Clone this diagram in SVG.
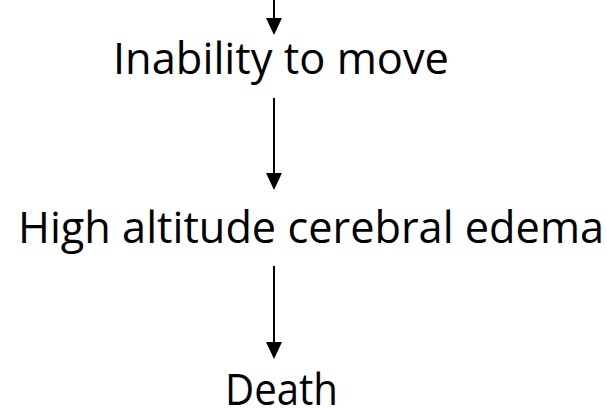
<svg xmlns="http://www.w3.org/2000/svg" width="607" height="409" viewBox="0 0 607 409">
<style>
.lbl{font-family:"Open Sans","Liberation Sans",sans-serif;font-size:44px;fill:#000}
.conn{stroke:#000;stroke-width:2;fill:none}
</style>
<defs>
<marker id="ah" markerUnits="userSpaceOnUse" markerWidth="17" markerHeight="16" viewBox="0 -8 17 16" refX="0" refY="0" orient="auto">
<path d="M0,-8 L17,0 L0,8 z" fill="#000"/>
</marker>
</defs>
<rect width="607" height="409" fill="#fff"/>
<g id="connectors">
<line class="conn" x1="274" y1="0" x2="274" y2="18" marker-end="url(#ah)"/>
<line class="conn" x1="274" y1="98" x2="274" y2="173" marker-end="url(#ah)"/>
<line class="conn" x1="274" y1="266" x2="274" y2="342" marker-end="url(#ah)"/>
</g>
<g id="node-inability">
<text class="lbl" x="113" y="74" textLength="336" lengthAdjust="spacingAndGlyphs">Inability to move</text>
</g>
<g id="node-hace">
<text class="lbl" x="18" y="243" textLength="586" lengthAdjust="spacingAndGlyphs">High altitude cerebral edema</text>
</g>
<g id="node-death">
<text class="lbl" x="225" y="405" textLength="113" lengthAdjust="spacingAndGlyphs">Death</text>
</g>
</svg>
